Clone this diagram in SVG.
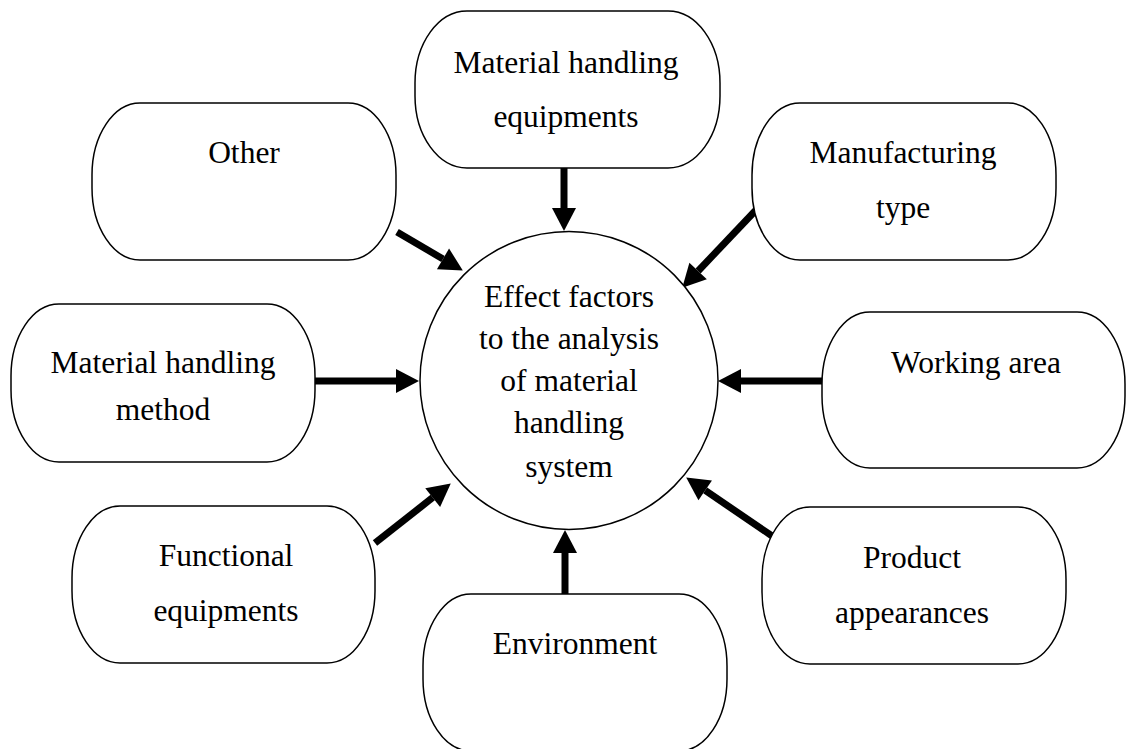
<svg xmlns="http://www.w3.org/2000/svg" width="1126" height="749" viewBox="0 0 1126 749">
  <style>
    .box { fill: #ffffff; stroke: #000000; stroke-width: 1.5; }
    .hub { fill: #ffffff; stroke: #000000; stroke-width: 1.5; }
    .lbl { font-family: "Liberation Serif", "Times New Roman", serif; font-size: 31.5px; fill: #000000; text-anchor: middle; }
    .arrow { stroke: #000000; stroke-width: 7; fill: none; marker-end: url(#head); }
  </style>
  <defs>
    <!-- filled head; the shaft ends at the head's base -->
    <marker id="head" markerUnits="userSpaceOnUse" markerWidth="24" markerHeight="24" viewBox="0 -12 23 24" refX="0" refY="0" orient="auto" overflow="visible">
      <path d="M0,-12 L23,0 L0,12 Z" fill="#000000"/>
    </marker>
  </defs>

  <rect width="1126" height="749" fill="#ffffff"/>

  <g id="connectors">
    <line class="arrow" x1="564" y1="168" x2="564" y2="208"/>
    <line class="arrow" x1="397" y1="232" x2="443" y2="258.9"/>
    <line class="arrow" x1="756" y1="210" x2="698.1" y2="271"/>
    <line class="arrow" x1="315" y1="381" x2="396" y2="381"/>
    <line class="arrow" x1="822" y1="381" x2="741" y2="381"/>
    <line class="arrow" x1="375" y1="543" x2="432.7" y2="497.6"/>
    <line class="arrow" x1="565" y1="594" x2="565" y2="553"/>
    <line class="arrow" x1="775" y1="538" x2="705.2" y2="490.4"/>
  </g>

  <g id="hub">
    <circle class="hub" cx="569" cy="380.5" r="149"/>
    <text class="lbl" x="569" y="307">Effect factors</text>
    <text class="lbl" x="569" y="349">to the analysis</text>
    <text class="lbl" x="569" y="391">of material</text>
    <text class="lbl" x="569" y="433">handling</text>
    <text class="lbl" x="569" y="477">system</text>
  </g>

  <g id="equipments">
    <rect class="box" x="415" y="11" width="305" height="157" rx="52" ry="72"/>
    <text class="lbl" x="566" y="73">Material handling</text>
    <text class="lbl" x="566" y="127">equipments</text>
  </g>

  <g id="other">
    <rect class="box" x="92" y="103" width="304" height="157" rx="48" ry="72"/>
    <text class="lbl" x="244" y="163">Other</text>
  </g>

  <g id="manufacturing">
    <rect class="box" x="752" y="103" width="304" height="157" rx="48" ry="72"/>
    <text class="lbl" x="903" y="163">Manufacturing</text>
    <text class="lbl" x="903" y="218">type</text>
  </g>

  <g id="method">
    <rect class="box" x="11" y="304" width="304" height="158" rx="48" ry="72"/>
    <text class="lbl" x="163" y="373">Material handling</text>
    <text class="lbl" x="163" y="420">method</text>
  </g>

  <g id="working-area">
    <rect class="box" x="822" y="312" width="303" height="156" rx="48" ry="72"/>
    <text class="lbl" x="976" y="373">Working area</text>
  </g>

  <g id="functional">
    <rect class="box" x="72" y="506" width="303" height="157" rx="48" ry="72"/>
    <text class="lbl" x="226" y="566">Functional</text>
    <text class="lbl" x="226" y="621">equipments</text>
  </g>

  <g id="environment">
    <rect class="box" x="423" y="594" width="304" height="157" rx="48" ry="72"/>
    <text class="lbl" x="575" y="654">Environment</text>
  </g>

  <g id="product">
    <rect class="box" x="762" y="507" width="304" height="157" rx="48" ry="72"/>
    <text class="lbl" x="912" y="568">Product</text>
    <text class="lbl" x="912" y="623">appearances</text>
  </g>
</svg>
